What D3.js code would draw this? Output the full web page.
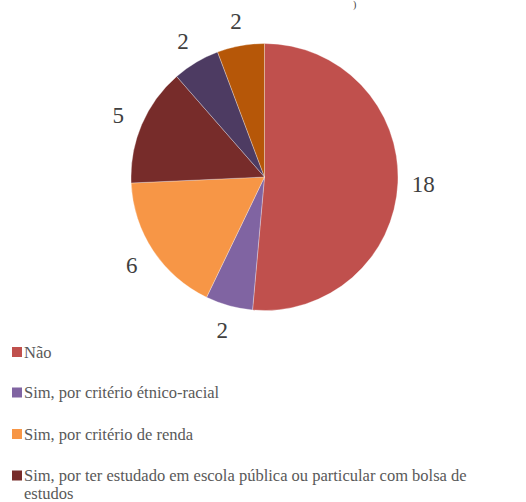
<!DOCTYPE html>
<html><head><meta charset="utf-8"><script src="https://cdn.jsdelivr.net/npm/d3@7"></script></head>
<body style="margin:0">
<script>
// Data
const categories = [
  "Não",
  "Sim, por critério étnico-racial",
  "Sim, por critério de renda",
  "Sim, por ter estudado em escola pública ou particular com bolsa de estudos",
  "Outra categoria A",
  "Outra categoria B"
];
const values = [18, 2, 6, 5, 2, 2];
const colors = ["#C0504D", "#8064A2", "#F79646", "#772C2A", "#4D3B62", "#B65708"];
// legend text as it wraps in the picture (only first four entries fit)
const legendLines = [
  ["Não"],
  ["Sim, por critério étnico-racial"],
  ["Sim, por critério de renda"],
  ["Sim, por ter estudado em escola pública ou particular com bolsa de", "estudos"]
];
const titleFragment = ")";

const W = 526, H = 502;
const cx = 264.5, cy = 177, R = 133.5, labelR = 159;
const FONT = "Times New Roman, Liberation Serif, Tinos, serif";

const svg = d3.select("body").append("svg")
  .attr("width", W).attr("height", H)
  .attr("font-family", FONT);

// truncated title fragment at top
svg.append("text")
  .attr("x", 353).attr("y", 8)
  .attr("font-size", 10)
  .attr("font-family", FONT)
  .attr("fill", "#404040")
  .text(titleFragment);

const data = categories.map((c, i) => ({cat: c, value: values[i], color: colors[i]}));

const pie = d3.pie().sort(null).value(d => d.value).startAngle(0).endAngle(2 * Math.PI);
const arcs = pie(data);
const arc = d3.arc().innerRadius(0).outerRadius(R);
const labelArc = d3.arc().innerRadius(labelR).outerRadius(labelR);

const g = svg.append("g").attr("transform", `translate(${cx},${cy})`);
g.selectAll("path").data(arcs).join("path")
  .attr("d", arc)
  .attr("fill", d => d.data.color)
  .attr("stroke", "#ffffff")
  .attr("stroke-width", 0.6)
  .attr("stroke-opacity", 0.5);

arcs.forEach(d => {
  const [x, y] = labelArc.centroid(d);
  svg.append("text")
    .attr("x", cx + x).attr("y", cy + y + 8)
    .attr("text-anchor", "middle")
    .attr("font-family", FONT)
    .style("font-family", FONT)
    .attr("font-size", 23)
    .attr("fill", "#404040")
    .text(d.data.value);
});

// Legend
const legendY = [352, 392.5, 434, 475.5];
legendLines.forEach((lines, i) => {
  svg.append("rect").attr("x", 12).attr("y", legendY[i] - 5)
    .attr("width", 10).attr("height", 10).attr("fill", colors[i]);
  lines.forEach((ln, j) => {
    svg.append("text")
      .attr("x", 24).attr("y", legendY[i] + 5.5 + j * 18)
      .attr("font-family", FONT)
      .style("font-family", FONT)
      .attr("font-size", 16.5)
      .attr("fill", "#595959")
      .text(ln);
  });
});
</script></body></html>
